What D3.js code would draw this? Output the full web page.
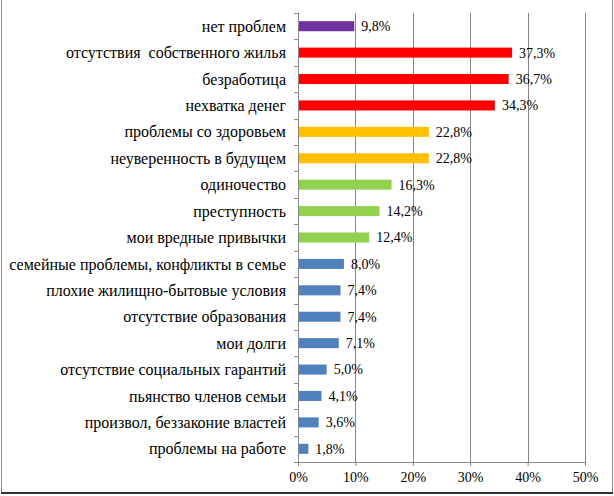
<!DOCTYPE html>
<html><head><meta charset="utf-8">
<script src="https://cdn.jsdelivr.net/npm/d3@7"></script>
<style>
html,body{margin:0;padding:0;background:#fff;}
svg text, text { font-family: "Liberation Serif", "Times New Roman", Tinos !important; }
</style>
</head><body>
<script>
const categories = [
  "нет проблем",
  "отсутствия  собственного жилья",
  "безработица",
  "нехватка денег",
  "проблемы со здоровьем",
  "неуверенность в будущем",
  "одиночество",
  "преступность",
  "мои вредные привычки",
  "семейные проблемы, конфликты в семье",
  "плохие жилищно-бытовые условия",
  "отсутствие образования",
  "мои долги",
  "отсутствие социальных гарантий",
  "пьянство членов семьи",
  "произвол, беззаконие властей",
  "проблемы на работе"
];
const values = [9.8, 37.3, 36.7, 34.3, 22.8, 22.8, 16.3, 14.2, 12.4, 8.0, 7.4, 7.4, 7.1, 5.0, 4.1, 3.6, 1.8];
const groups = ["none","red","red","red","gold","gold","green","green","green","blue","blue","blue","blue","blue","blue","blue","blue"];
const groupColors = {none:"#7030A0", red:"#FF0000", gold:"#FFC000", green:"#92D050", blue:"#4F81BD"};
const xTicks = [0, 10, 20, 30, 40, 50];

const W = 614, H = 496;
const svg = d3.select("body").append("svg").attr("width", W).attr("height", H).style("display","block");
const FS_CAT = 16, FS_VAL = 14;

const x = d3.scaleLinear().domain([0, 50]).range([298, 585]);
const y = d3.scaleBand().domain(categories).range([13, 462]).paddingInner(0.62).paddingOuter(0.31);

// border
svg.append("line").attr("x1",1.5).attr("x2",1.5).attr("y1",0).attr("y2",493).attr("stroke","#8c8c8c").attr("stroke-width",1);
svg.append("line").attr("x1",612.5).attr("x2",612.5).attr("y1",0).attr("y2",493).attr("stroke","#8c8c8c").attr("stroke-width",1);
svg.append("line").attr("x1",1).attr("x2",613).attr("y1",493).attr("y2",493).attr("stroke","#333").attr("stroke-width",2);

// gridlines
svg.append("g").selectAll("line").data(xTicks.slice(1)).join("line")
  .attr("x1", d => Math.round(x(d))+0.5).attr("x2", d => Math.round(x(d))+0.5)
  .attr("y1", 13).attr("y2", 462).attr("stroke", "#868686").attr("stroke-width", 1);

// bars
svg.append("g").selectAll("rect").data(categories).join("rect")
  .attr("x", x(0)).attr("y", d => y(d))
  .attr("width", (d,i) => x(values[i]) - x(0))
  .attr("height", y.bandwidth())
  .attr("fill", (d,i) => groupColors[groups[i]]);

// y axis
const yAxisG = svg.append("g");
yAxisG.append("line").attr("x1",298.5).attr("x2",298.5).attr("y1",13).attr("y2",462).attr("stroke","#868686");
const step = y.step();
const bounds = d3.range(categories.length + 1).map(i => 13 + i * step);
yAxisG.selectAll("line.tk").data(bounds).join("line").attr("class","tk")
  .attr("x1", 294).attr("x2", 298.5)
  .attr("y1", d => Math.round(d)+0.5).attr("y2", d => Math.round(d)+0.5)
  .attr("stroke","#868686");

// x axis
const xAxis = d3.axisBottom(x).tickValues(xTicks).tickFormat(d => d + "%").tickSize(4).tickPadding(6);
const xg = svg.append("g").attr("transform", "translate(0,462)").call(xAxis);
xg.attr("font-family", null).attr("font-size", FS_VAL);
xg.select(".domain").attr("stroke","#868686").attr("d", "M298,0.5H585.5");
xg.selectAll(".tick line").attr("stroke","#868686");
xg.selectAll("text").attr("font-size", FS_VAL).attr("fill","#000");

// category labels
svg.append("g").selectAll("text").data(categories).join("text")
  .attr("x", 286).attr("y", d => y(d) + y.bandwidth()/2)
  .attr("dy", "0.35em").attr("text-anchor","end")
  .attr("font-size", FS_CAT).attr("fill","#000")
  .style("white-space","pre").text(d => d);

// value labels
svg.append("g").selectAll("text").data(categories).join("text")
  .attr("x", (d,i) => x(values[i]) + 7).attr("y", d => y(d) + y.bandwidth()/2)
  .attr("dy", "0.35em")
  .attr("font-size", FS_VAL).attr("fill","#000")
  .text((d,i) => values[i].toFixed(1).replace(".", ",") + "%");
</script>
</body></html>
